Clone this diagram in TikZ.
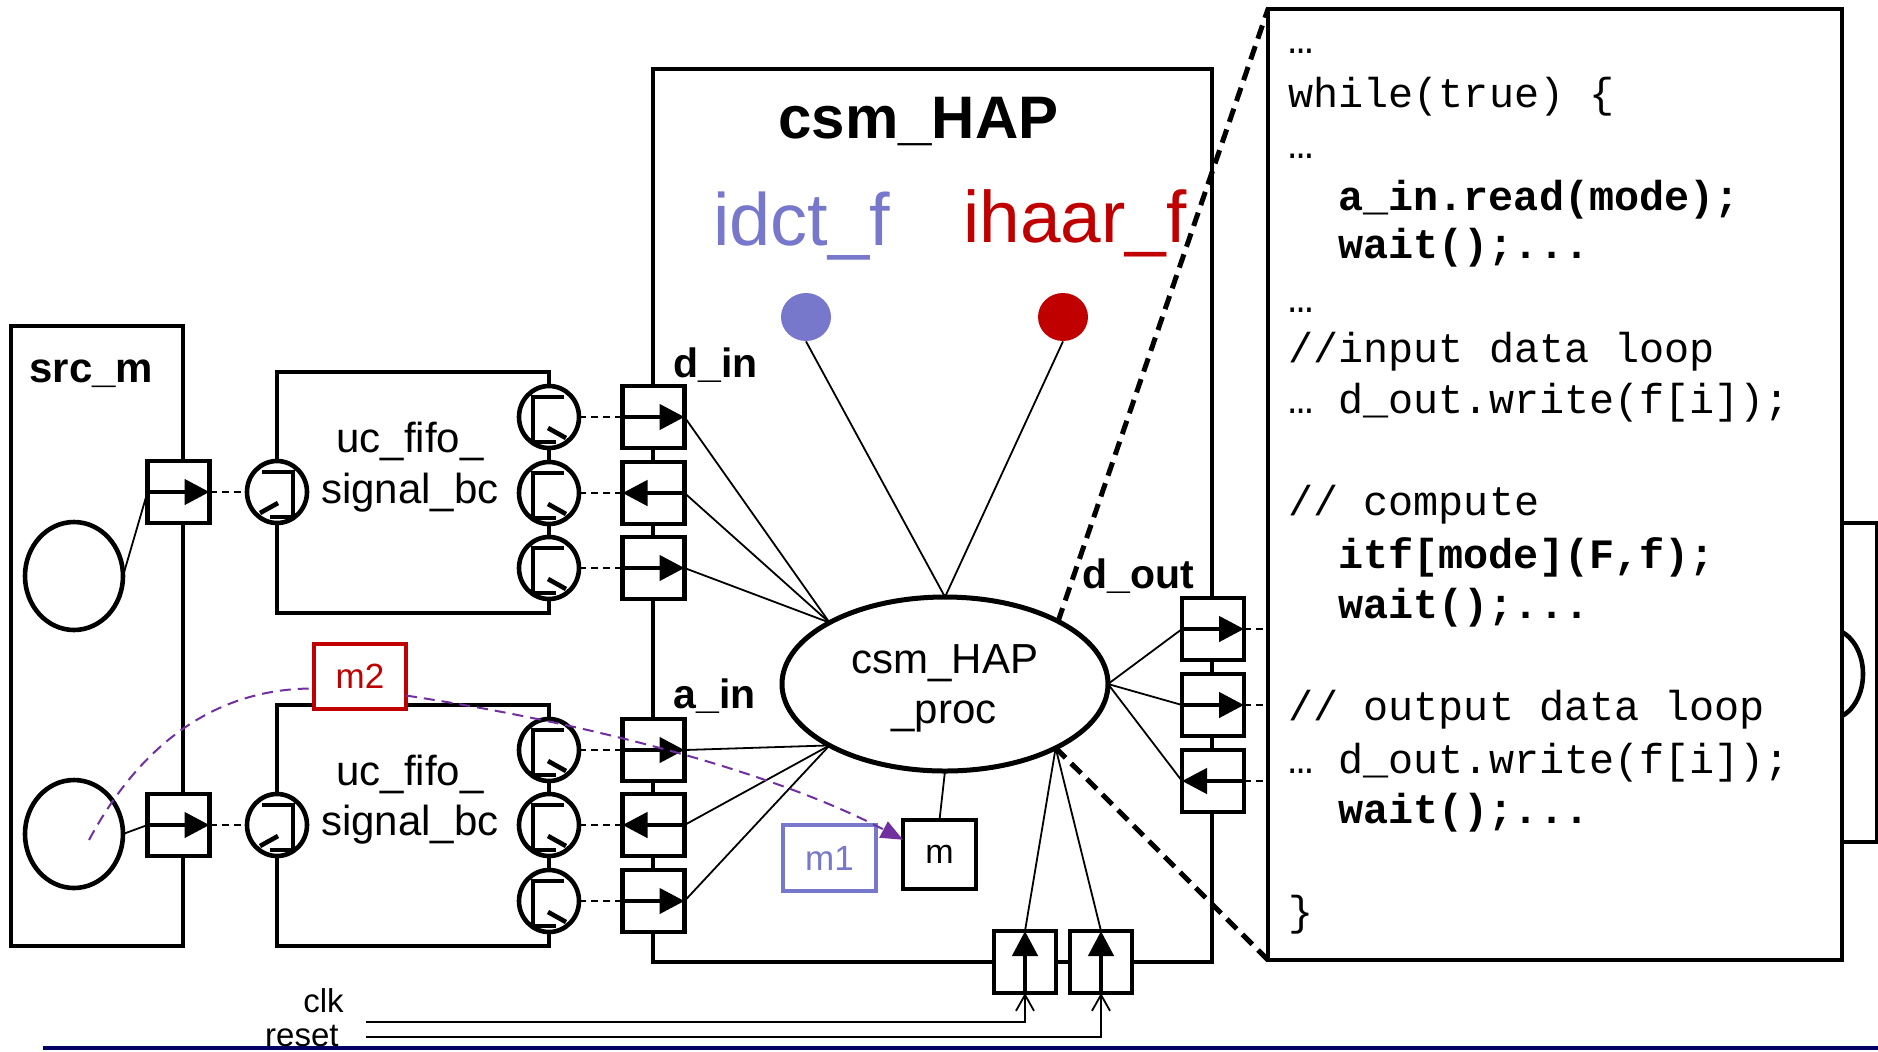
\documentclass[tikz,border=0pt]{standalone}
\usepackage{fontspec}
\setmainfont{Liberation Sans}
\setmonofont{Liberation Mono}
\usetikzlibrary{shapes.geometric,arrows.meta,fit}

\definecolor{idctblue}{RGB}{119,119,204}
\definecolor{haarred}{RGB}{192,0,0}
\definecolor{msgpurple}{RGB}{112,48,160}
\definecolor{rulenavy}{RGB}{0,0,102}

\newcommand\fsz[1]{\fontsize{#1}{#1}\selectfont}

\tikzset{
  wall/.style={draw, line width=2.3pt, inner sep=0pt, outer sep=0pt},
  portbox/.style={draw, fill=white, line width=2.3pt, minimum width=31pt,
    minimum height=31pt, inner sep=0pt, outer sep=0pt},
  parrow/.style={line width=2.3pt, -{Triangle[length=12.5pt,width=12.5pt]}},
  fportshape/.style={ellipse, draw, fill=white, line width=2.3pt,
    minimum width=30pt, minimum height=31pt, inner sep=0pt, outer sep=0pt},
  fport/.pic={
    \node[fportshape] (-e) at (0,0) {};
    \draw[line width=2.3pt] (15,-20) -- (-16,-20) -- (-16,25) -- (7,25);
    \draw[line width=2.3pt] (-1,11) -- (17,21);
  },
  wire/.style={line width=0.9pt},
  plink/.style={line width=1pt, dash pattern=on 3.5pt off 2.5pt},
  zoomline/.style={line width=2.5pt, dash pattern=on 7pt off 4pt},
  msgpath/.style={msgpurple, line width=1pt, dash pattern=on 5.5pt off 3.5pt},
  lbl/.style={inner sep=0pt, anchor=base west, font=\fsz{20.5}\bfseries},
  txt/.style={inner sep=0pt, anchor=base, font=\fsz{21}},
  code/.style={inner sep=0pt, anchor=base west, font=\fsz{20.9}\ttfamily},
  codeb/.style={inner sep=0pt, anchor=base west, font=\fsz{20.9}\ttfamily\bfseries},
}

\begin{document}
\begin{tikzpicture}[x=0.5pt,y=-0.5pt]
\useasboundingbox (0,0) rectangle (1878,1051);

% next module, mostly behind the code listing
\node[wall, fill=white, fit={(1780,523) (1877,842)}] (nextm) {};
\node[ellipse, draw, line width=2.3pt, minimum width=33pt, minimum height=45pt,
  inner sep=0pt] (nextc) at (1830,674) {};

% source module
\node[wall, fit={(11,326) (183,946)}] (srcm) {};
\node[lbl, font=\fsz{21}\bfseries] (srcmlbl) at (29,382) {src\_m};
\node[ellipse, draw, fill=white, line width=2.3pt, minimum width=49pt,
  minimum height=54pt, inner sep=0pt, outer sep=0pt] (srcc1) at (74,576) {};
\node[ellipse, draw, fill=white, line width=2.3pt, minimum width=49pt,
  minimum height=54pt, inner sep=0pt, outer sep=0pt] (srcc2) at (74,834) {};

% channels
\node[wall, fit={(277,372) (549,613)}] (fifo1) {};
\node[wall, fit={(277,705) (549,946)}] (fifo2) {};
\node[txt] (f1a) at (410,452) {uc\_fifo\_};
\node[txt] (f1b) at (410,503) {signal\_bc};
\node[txt] (f2a) at (410,785) {uc\_fifo\_};
\node[txt] (f2b) at (410,835) {signal\_bc};

% HAP module
\node[wall, fit={(653,69) (1212,962)}] (hap) {};
\node[lbl, font=\fsz{30}\bfseries] (haplbl) at (778,138) {csm\_HAP};
\node[inner sep=0pt, anchor=base west, font=\fsz{37}, text=idctblue] (idctlbl) at (713,245) {idct\_f};
\node[inner sep=0pt, anchor=base west, font=\fsz{36.5}, text=haarred] (haarlbl) at (963,242) {ihaar\_f};
\node[ellipse, fill=idctblue, minimum width=25pt, minimum height=24pt, inner sep=0pt] (idot) at (806,317) {};
\node[ellipse, fill=haarred, minimum width=25pt, minimum height=24pt, inner sep=0pt] (hdot) at (1063,317) {};
\node[lbl] (dinlbl) at (673,377) {d\_in};
\node[lbl] (ainlbl) at (673,708) {a\_in};
\node[lbl] (doutlbl) at (1082,588) {d\_out};

% ports
\foreach \n/\y in {din1/417, din2/493, din3/568, ain1/750, ain2/825, ain3/901}
  \node[portbox] (\n) at (653.5,\y) {};
\foreach \n/\y in {dout1/629, dout2/705, dout3/781}
  \node[portbox] (\n) at (1213,\y) {};
\node[portbox] (clkp) at (1025,962) {};
\node[portbox] (rstp) at (1101,962) {};
\node[portbox] (srcp1) at (178.5,492) {};
\node[portbox] (srcp2) at (178.5,825) {};

\foreach \n in {srcp1,srcp2,din1,din3,ain1,ain3,dout1,dout2}
  \draw[parrow] (\n.west) -- (\n.east);
\foreach \n in {din2,ain2,dout3}
  \draw[parrow] (\n.east) -- (\n.west);
\foreach \n in {clkp,rstp}
  \draw[parrow] (\n.south) -- (\n.north);

% channel interfaces
\foreach \n/\y in {fa1/417, fa2/493, fa3/568, fb1/750, fb2/825, fb3/901}
  \pic (\n) at (549,\y) {fport};
\pic[xscale=-1] (fl1) at (277,492) {fport};
\pic[xscale=-1] (fl2) at (277,825) {fport};

\foreach \a/\b in {fa1/din1, fa2/din2, fa3/din3, fb1/ain1, fb2/ain2, fb3/ain3}
  \draw[plink] (\a-e.east) -- (\b.west);
\draw[plink] (srcp1.east) -- (fl1-e.west);
\draw[plink] (srcp2.east) -- (fl2-e.west);
\draw[wire] (srcc1.east) -- (srcp1.west);
\draw[wire] (srcc2.east) -- (srcp2.west);

% process
\node[ellipse, draw, fill=white, line width=2.5pt, minimum width=163pt,
  minimum height=87pt, inner sep=0pt, outer sep=0pt] (proc) at (945,684) {};
\node[txt] (proca) at (945,673) {csm\_HAP};
\node[txt] (procb) at (944,723) {\_proc};

\foreach \n in {din1,din2,din3}
  \draw[wire] (proc.152) -- (\n.east);
\foreach \n in {ain1,ain2,ain3}
  \draw[wire] (proc.208) -- (\n.east);
\foreach \n in {dout1,dout2,dout3}
  \draw[wire] (proc.east) -- (\n.west);
\foreach \n in {clkp,rstp}
  \draw[wire] (proc.-30) -- (\n.north);
\draw[wire] (idot.south) -- (proc.north);
\draw[wire] (hdot.south) -- (proc.north);

% mode variable and messages
\node[wall, fill=white, fit={(903,820) (976,889)}] (mbox) {};
\node[inner sep=0pt, font=\fsz{17}] (mlbl) at (mbox.center) {m};
\node[draw=idctblue, line width=2.3pt, fill=white, inner sep=0pt,
  outer sep=0pt, fit={(783,825) (876,891)}] (mone) {};
\node[inner sep=0pt, text=idctblue, font=\fsz{17.5}] (monelbl) at (mone.center) {m1};
\node[draw=haarred, line width=2.3pt, fill=white, inner sep=0pt,
  outer sep=0pt, fit={(314,644) (406,709)}] (mtwo) {};
\node[inner sep=0pt, text=haarred, font=\fsz{17.5}] (mtwolbl) at (mtwo.center) {m2};
\draw[wire] (proc.south) -- (mbox.north);

\coordinate (mstart) at (89,840);
\draw[msgpath] (mstart) .. controls (140,745) and (215,688) .. ([yshift=-6pt]mtwo.west);
\draw[msgpath, -{Triangle[length=11pt,width=9pt]}] ([yshift=-9.5pt]mtwo.east)
  .. controls (600,725) and (780,775) .. (mbox.158);

% code listing
\node[wall, fill=white, line width=2.3pt, fit={(1268,9) (1842,960)}] (panel) {};
\draw[zoomline] (proc.29) -- (panel.north west);
\draw[zoomline] (proc.-30) -- (panel.south west);
\foreach \n in {dout1,dout2,dout3}
  \draw[plink] (\n.east) -- (\n.east -| panel.west);

\node[code]  (c1)  at (1288,53)  {…};
\node[code]  (c2)  at (1288,107) {while(true) \{};
\node[code]  (c3)  at (1288,158) {…};
\node[codeb] (c4)  at (1338,210) {a\_in.read(mode);};
\node[codeb] (c5)  at (1338,258) {wait();...};
\node[code]  (c6)  at (1288,312) {…};
\node[code]  (c7)  at (1288,362) {//input data loop};
\node[code]  (c8)  at (1288,413) {… d\_out.write(f[i]);};
\node[code]  (c9)  at (1288,515) {// compute};
\node[codeb] (c10) at (1338,568) {itf[mode](F,f);};
\node[codeb] (c11) at (1338,618) {wait();...};
\node[code]  (c12) at (1288,720) {// output data loop};
\node[code]  (c13) at (1288,773) {… d\_out.write(f[i]);};
\node[codeb] (c14) at (1338,823) {wait();...};
\node[code]  (c15) at (1288,925) {\}};

% clock and reset inputs
\coordinate (clkin) at (366,1022);
\coordinate (rstin) at (366,1037);
\draw[wire, -{Straight Barb[length=8pt,width=9pt]}] (clkin) -| (clkp.south);
\draw[wire, -{Straight Barb[length=8pt,width=9pt]}] (rstin) -| (rstp.south);
\node[inner sep=0pt, anchor=base east, font=\fsz{16.5}] (clklbl) at (344,1012) {clk};
\node[inner sep=0pt, anchor=base east, font=\fsz{16.5}] (rstlbl) at (339,1046) {reset};

% footer rule
\coordinate (rulea) at (43,1048);
\coordinate (ruleb) at (1878,1048);
\draw[rulenavy, line width=1.6pt] (rulea) -- (ruleb);
\end{tikzpicture}
\end{document}
